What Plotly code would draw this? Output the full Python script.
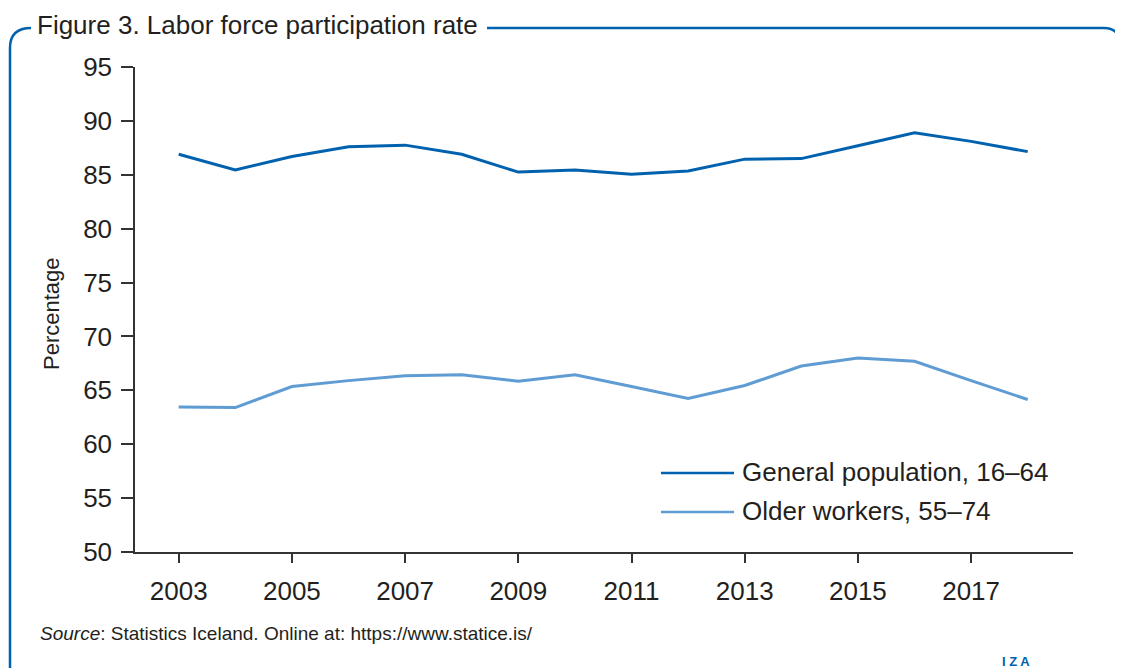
import plotly.graph_objects as go

years = list(range(2003, 2019))
general_population = [86.9, 85.45, 86.7, 87.6, 87.75, 86.9, 85.25, 85.45, 85.05, 85.35,
                      86.45, 86.5, 87.7, 88.9, 88.1, 87.15]
older_workers = [63.45, 63.4, 65.35, 65.9, 66.35, 66.45, 65.85, 66.45, 65.35, 64.25,
                 65.45, 67.25, 68.0, 67.7, 65.9, 64.15]
series_names = ["General population, 16\u201364", "Older workers, 55\u201374"]
series_colors = ["#0062AE", "#5F9CD3"]
y_ticks = list(range(50, 96, 5))
x_ticks = list(range(2003, 2018, 2))

# page body has an 8px margin; positions below are given in screenshot pixels
OFF = 8
W, H = 1123 - OFF, 668 - OFF
L, R, T, B = 135 - OFF, 50, 67 - OFF, 116
PW, PH = W - L - R, H - T - B


def px(x):
    return (x - OFF - L) / PW


def py(y):
    return (H - B - (y - OFF)) / PH


TEXT = "#231F20"
FONT = "Liberation Sans, Arial, sans-serif"

fig = go.Figure()
for name, vals, col in zip(series_names, [general_population, older_workers], series_colors):
    fig.add_trace(go.Scatter(x=years, y=vals, mode="lines", name=name,
                             line=dict(color=col, width=3), showlegend=False))

fig.update_layout(
    width=W, height=H,
    margin=dict(l=L, r=R, t=T, b=B, pad=0),
    paper_bgcolor="white", plot_bgcolor="white",
    font=dict(family=FONT, color=TEXT),
    xaxis=dict(range=[2002.228, 2018.80], tickvals=x_ticks, ticktext=[str(v) for v in x_ticks],
               showgrid=False, zeroline=False, showline=True, linecolor="#333333", linewidth=1.5,
               ticks="outside", ticklen=9, tickwidth=1.5, tickcolor="#333333",
               tickfont=dict(size=26, color=TEXT), ticklabelstandoff=6),
    yaxis=dict(range=[50, 95], tickvals=y_ticks, showgrid=False, zeroline=False,
               showline=True, linecolor="#333333", linewidth=1.5,
               ticks="outside", ticklen=12, tickwidth=1.5, tickcolor="#333333",
               tickfont=dict(size=26, color=TEXT), ticklabelstandoff=4),
)

shapes = []
frame_col = "#0062AE"
# frame left part
shapes.append(dict(type="path", xref="paper", yref="paper",
                   path=f"M {px(10)},{py(700)} L {px(10)},{py(48)} Q {px(10)},{py(28)} {px(31)},{py(28)}",
                   line=dict(color=frame_col, width=2.5)))
# frame right part
shapes.append(dict(type="path", xref="paper", yref="paper",
                   path=f"M {px(487)},{py(28)} L {px(1104)},{py(28)} Q {px(1120)},{py(28)} {px(1120)},{py(45)} L {px(1120)},{py(700)}",
                   line=dict(color=frame_col, width=2.5)))
# legend lines
for i, col in enumerate(series_colors):
    yy = 473 + 39 * i
    shapes.append(dict(type="line", xref="paper", yref="paper",
                       x0=px(661), x1=px(734), y0=py(yy), y1=py(yy),
                       line=dict(color=col, width=2.5)))
fig.update_layout(shapes=shapes)

ann = []
ann.append(dict(text="Figure 3. Labor force participation rate", x=px(35), y=py(25),
                xref="paper", yref="paper", xanchor="left", yanchor="middle", showarrow=False,
                font=dict(size=26, color=TEXT)))
for i, name in enumerate(series_names):
    yy = 472 + 39 * i
    ann.append(dict(text=name, x=px(740), y=py(yy), xref="paper", yref="paper",
                    xanchor="left", yanchor="middle", showarrow=False,
                    font=dict(size=26, color=TEXT)))
ann.append(dict(text="Percentage", x=px(51), y=py(314), xref="paper", yref="paper",
                xanchor="center", yanchor="middle", textangle=-90, showarrow=False,
                font=dict(size=22, color=TEXT)))
ann.append(dict(text="<i>Source</i>: Statistics Iceland. Online at: https://www.statice.is/",
                x=px(38), y=py(633), xref="paper", yref="paper", xanchor="left", yanchor="middle",
                showarrow=False, font=dict(size=19, color=TEXT)))
ann.append(dict(text="<b>I Z A</b>", x=px(1016), y=py(652), xref="paper", yref="paper",
                xanchor="center", yanchor="top", showarrow=False,
                font=dict(size=13, color=frame_col)))
fig.update_layout(annotations=ann)

fig.write_html("out.html")
